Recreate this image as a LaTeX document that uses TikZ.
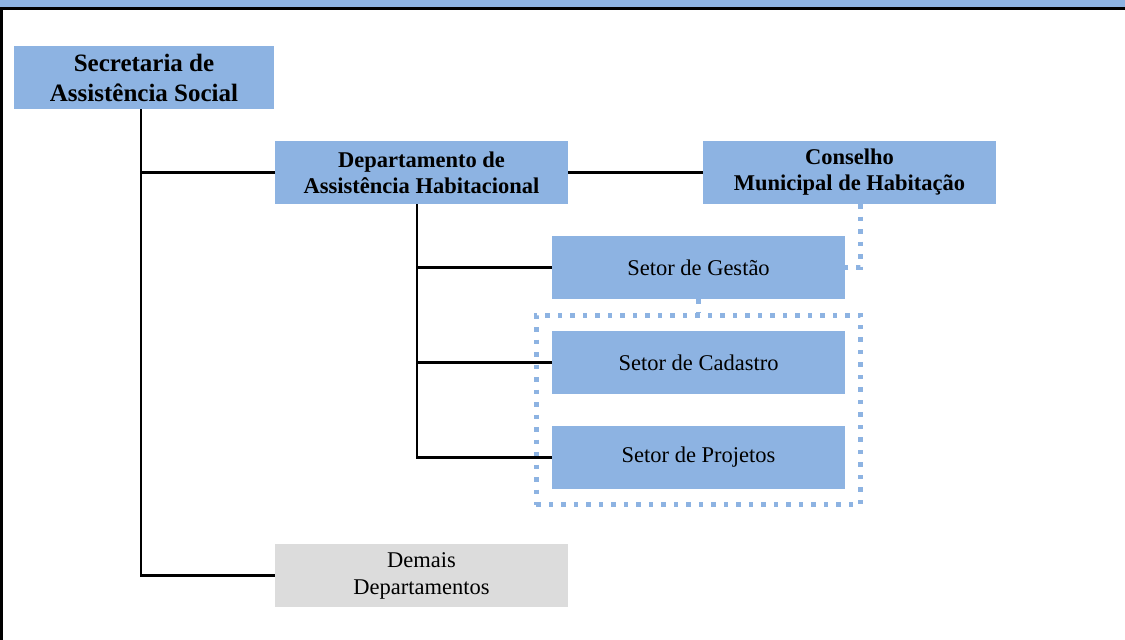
\documentclass[tikz,border=0pt]{standalone}
\usepackage{fontspec}
\setmainfont{Liberation Serif}
\usetikzlibrary{fit}
\definecolor{boxblue}{HTML}{8DB3E2}
\definecolor{boxgray}{HTML}{DCDCDC}
\begin{document}
\begin{tikzpicture}[x=1pt,y=-1pt,
  box/.style={fill=boxblue, minimum width=293pt, minimum height=63pt, inner sep=0pt, align=center, text=black, font=\fontsize{22.5}{27}\selectfont},
  boldbox/.style={box, font=\fontsize{22.5}{26}\selectfont\bfseries},
  graybox/.style={box, fill=boxgray},
  conn/.style={draw=black, line width=2.5pt},
  dotconn/.style={draw=boxblue, line width=5pt, dash pattern=on 4.5pt off 8pt}]
\useasboundingbox (0,0) rectangle (1125,640);
% frame
\fill[boxblue] (0,0) rectangle (1125,7.5);
\draw[line width=2.5pt] (0,8.5) -- (1125,8.5);
\draw[line width=2.5pt] (1.5,8.5) -- (1.5,640);
% nodes
\node[box, minimum width=260pt, font=\fontsize{25}{30}\selectfont\bfseries] (sec) at (144,77.5) {Secretaria de\\Assistência Social};
\node[boldbox] (dep) at (421.5,172.5) {Departamento de\\Assistência Habitacional};
\node[boldbox] (con) at (849.5,172.5) {Conselho\\Municipal de Habitação};
\node[box] (ges) at (698.5,267.5) {Setor de Gestão};
\node[box] (cad) at (698.5,362.5) {Setor de Cadastro};
\node[box] (pro) at (698.5,457.5) {Setor de Projetos};
\node[graybox] (dem) at (421.5,575.5) {Demais\\Departamentos};
\node[fit=(cad)(pro), inner sep=15.5pt, dotconn] (grp) {};
% connectors
\coordinate (s) at (141,0);
\coordinate (d) at (417,0);
\coordinate (c) at (860,0);
\draw[conn] (sec.south -| s) |- (dem.west);
\draw[conn] (s |- dep.west) -- (dep.west);
\draw[conn] (dep.east) -- (con.west);
\draw[conn] (dep.south -| d) |- (pro.west);
\draw[conn] (d |- ges.west) -- (ges.west);
\draw[conn] (d |- cad.west) -- (cad.west);
\draw[dotconn] (con.south -| c) |- (ges.east);
\draw[dotconn] (ges.south) -- (grp.north);
\end{tikzpicture}
\end{document}
